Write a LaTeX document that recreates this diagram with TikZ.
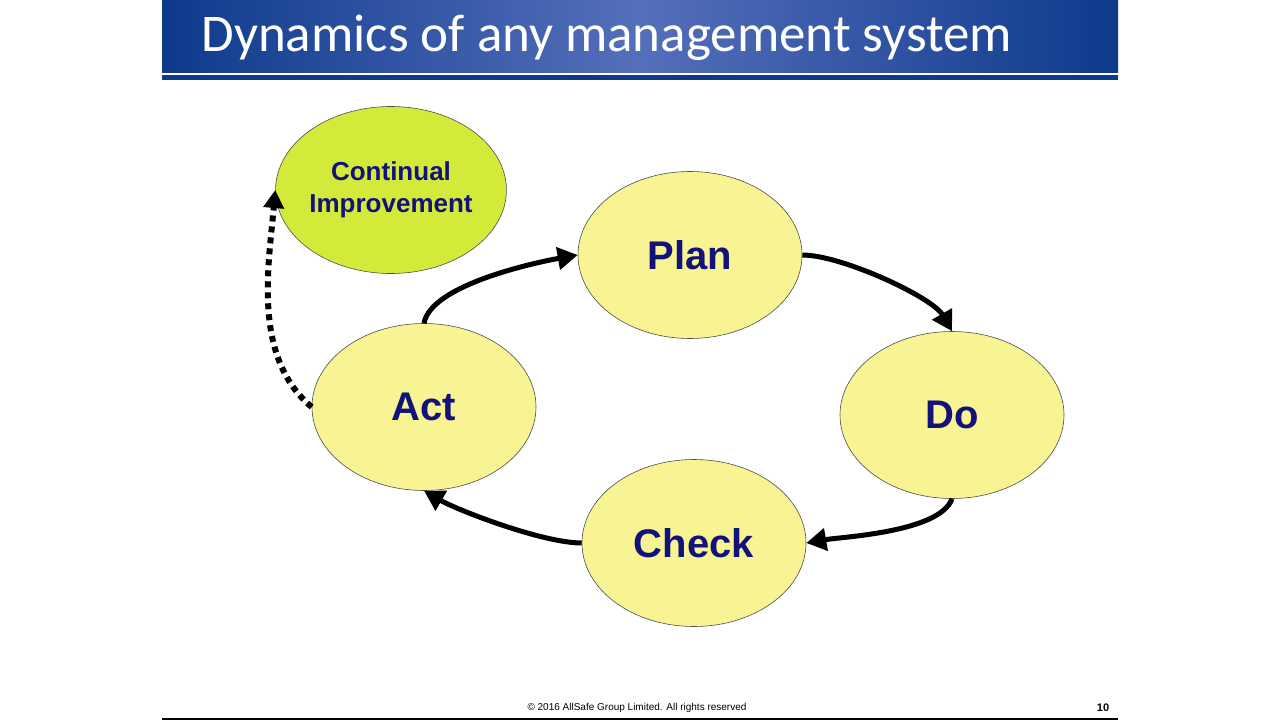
\documentclass[tikz,border=0pt]{standalone}
\usepackage{fontspec}
\setmainfont{Liberation Sans}
\newfontfamily\titlefont{Carlito}
\usetikzlibrary{arrows.meta,shapes.geometric}
\definecolor{band}{HTML}{0E3A8C}
\definecolor{pdca}{HTML}{F8F494}
\definecolor{ci}{HTML}{D4EA3A}
\definecolor{navy}{HTML}{12127A}
\begin{document}
\begin{tikzpicture}[x=1pt,y=-1pt,
  el/.style={ellipse,draw=black!70,line width=0.6pt,fill=pdca,minimum width=224pt,minimum height=167pt,inner sep=0pt,font=\fontsize{40}{44}\selectfont\bfseries,text=navy},
  arr/.style={line width=5pt,-{Triangle[length=20pt,width=22pt]}}]
\useasboundingbox (0,0) rectangle (1280,720);
\fill[white] (0,0) rectangle (1280,720);
\shade[left color=band,right color=band,middle color=band!85!blue!70] (162,0) rectangle (1118,72);
\fill[band] (162,75) rectangle (1118,80);
\node[anchor=west,text=white,font=\titlefont\fontsize{53}{56}\selectfont] (title) at (198,38) {Dynamics of any management system};
\node[el,fill=ci,font=\fontsize{26}{32}\selectfont\bfseries,align=center] (ci) at (391,190) {Continual\\Improvement};
\node[el] (plan) at (690,255) {Plan};
\node[el] (do) at (952,415) {Do};
\node[el] (check) at (694,543) {Check};
\node[el] (act) at (424,407) {Act};
\draw[arr] (act.north) to[out=80,in=190,looseness=0.6] (plan.west);
\draw[arr] (plan.east) to[out=0,in=120,looseness=0.6] (do.north);
\draw[arr] (do.south) to[out=-110,in=10,looseness=0.6] (check.east);
\draw[arr] (check.west) to[out=180,in=-30,looseness=0.6] (act.south);
\draw[line width=6pt,dash pattern=on 6pt off 5pt,-{Triangle[length=18pt,width=20pt]}] (act.west) to[out=140,in=-95,looseness=0.9] (ci.west);
\node[font=\fontsize{10}{12}\selectfont] (copy) at (637,708) {© 2016 AllSafe Group Limited. All rights reserved};
\node[font=\fontsize{11}{12}\selectfont\bfseries] (num) at (1103,708) {10};
\draw[line width=1.5pt] (162,719) -- (1118,719);
\end{tikzpicture}
\end{document}
